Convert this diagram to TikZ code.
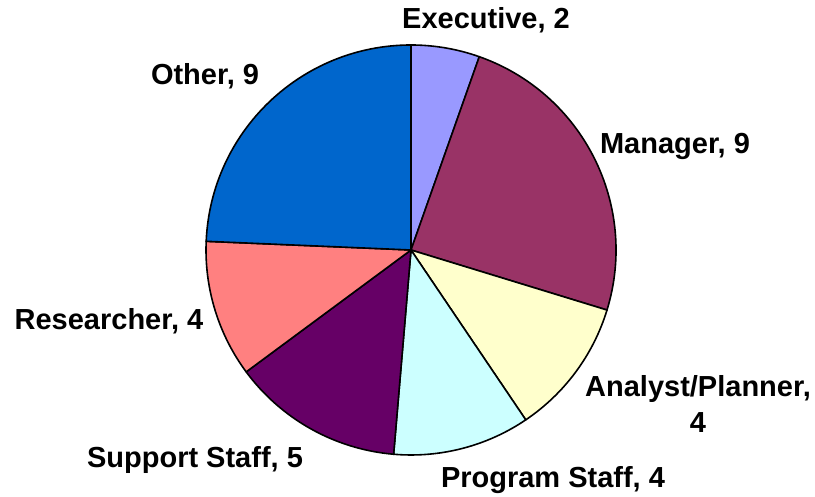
\documentclass[tikz,border=0pt]{standalone}
\usepackage{fontspec}
\setmainfont{Liberation Sans}
\definecolor{cExec}{HTML}{9999FF}
\definecolor{cMgr}{HTML}{993366}
\definecolor{cAna}{HTML}{FFFFCC}
\definecolor{cProg}{HTML}{CCFFFF}
\definecolor{cSup}{HTML}{660066}
\definecolor{cRes}{HTML}{FF8080}
\definecolor{cOth}{HTML}{0066CC}
\tikzset{
  slice/.style={draw=black, line width=0.8pt, line join=round},
  lbl/.style={font=\fontsize{14.5}{18}\selectfont\bfseries, inner sep=0pt, anchor=base, align=center}
}
\begin{document}
\begin{tikzpicture}[x=0.5pt,y=0.5pt]
\useasboundingbox (0,0) rectangle (815,497);
\fill[white] (0,0) rectangle (815,497);
\coordinate (c) at (411,247);
\def\R{102.5pt}
\newcommand\pieslice[3]{%
  \filldraw[slice, fill=#3] (c) -- ++(#1:\R) arc[start angle=#1, end angle=#2, radius=\R] -- cycle;}
\pieslice{90}{70.54}{cExec}
\pieslice{70.54}{-17.03}{cMgr}
\pieslice{-17.03}{-55.95}{cAna}
\pieslice{-55.95}{-94.86}{cProg}
\pieslice{-94.86}{-143.51}{cSup}
\pieslice{-143.51}{-182.43}{cRes}
\pieslice{-182.43}{-270}{cOth}
\node[lbl] (exec) at (486,468) {Executive, 2};
\node[lbl] (oth) at (205,412) {Other, 9};
\node[lbl] (mgr) at (675,343) {Manager, 9};
\node[lbl] (ana) at (698,64) {Analyst/Planner,\\4};
\node[lbl] (prog) at (553,9) {Program Staff, 4};
\node[lbl] (sup) at (195,29) {Support Staff, 5};
\node[lbl] (res) at (109,167) {Researcher, 4};
\end{tikzpicture}
\end{document}
